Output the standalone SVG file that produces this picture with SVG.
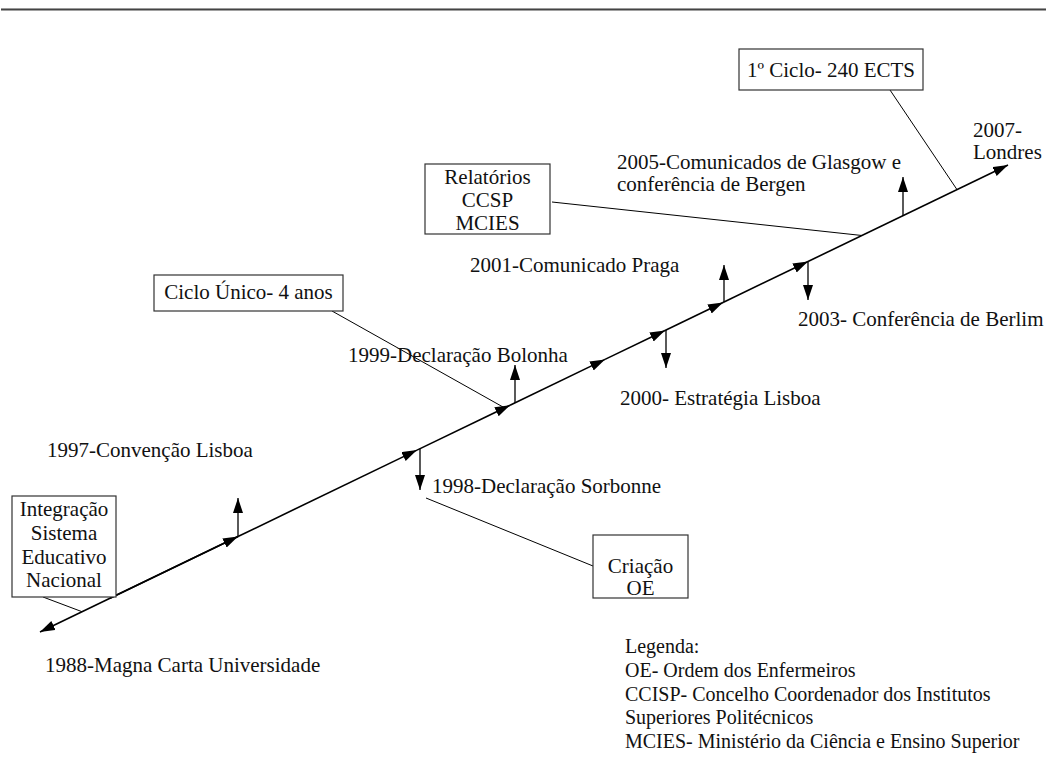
<svg xmlns="http://www.w3.org/2000/svg" width="1046" height="780" viewBox="0 0 1046 780" font-family="'Liberation Serif', 'Times New Roman', Times, serif">
  <style>
    text { font-family: 'Liberation Serif', 'Times New Roman', Times, serif; fill: #111; }
    .lbl { font-size: 21px; }
    .leg { font-size: 20px; }
    .box rect { fill: #fff; stroke: #333; stroke-width: 1.2; }
    .box text { font-size: 21px; text-anchor: middle; }
    .axis { stroke: #000; stroke-width: 1.6; fill: none; marker-end: url(#head); }
    .tick { stroke: #000; stroke-width: 1.3; fill: none; marker-end: url(#head); }
    .lead { stroke: #000; stroke-width: 1; fill: none; }
  </style>
  <defs>
    <marker id="head" markerUnits="userSpaceOnUse" markerWidth="16" markerHeight="11" refX="15" refY="5" orient="auto">
      <path d="M0,0 L15,5 L0,10 z" fill="#000"/>
    </marker>
  </defs>

  <rect width="1046" height="780" fill="#fff"/>

  <!-- header rule -->
  <line x1="1" y1="8.5" x2="1046" y2="8.5" stroke="#9a9a9a" stroke-width="1"/>
  <line x1="1" y1="9.7" x2="1046" y2="9.7" stroke="#444" stroke-width="1.4"/>

  <!-- timeline axis, callout leaders and event ticks -->
  <g id="connectors">
    <line class="axis" x1="238" y1="536.5" x2="40" y2="632"/>
    <line class="axis" x1="110" y1="598.2" x2="238" y2="536.5"/>
    <line class="axis" x1="238" y1="536.5" x2="417" y2="450.1"/>
    <line class="axis" x1="417" y1="450.1" x2="510" y2="405.3"/>
    <line class="axis" x1="510" y1="405.3" x2="605" y2="359.4"/>
    <line class="axis" x1="605" y1="359.4" x2="665" y2="330.5"/>
    <line class="axis" x1="665" y1="330.5" x2="723" y2="302.5"/>
    <line class="axis" x1="723" y1="302.5" x2="808" y2="261.5"/>
    <line class="axis" x1="808" y1="261.5" x2="1008" y2="165"/>

    <line class="tick" x1="238" y1="536.5" x2="238" y2="498"/>
    <line class="tick" x1="420" y1="448.7" x2="420" y2="490"/>
    <line class="tick" x1="515" y1="402.9" x2="515" y2="365"/>
    <line class="tick" x1="666" y1="330" x2="666" y2="368"/>
    <line class="tick" x1="724" y1="302" x2="724" y2="265"/>
    <line class="tick" x1="808" y1="261.5" x2="808" y2="300"/>
    <line class="tick" x1="903" y1="215.7" x2="903" y2="177"/>

    <line class="lead" x1="43" y1="597" x2="82" y2="611.7"/>
    <line class="lead" x1="332" y1="311" x2="503" y2="407"/>
    <line class="lead" x1="552" y1="202" x2="862" y2="235.5"/>
    <line class="lead" x1="890" y1="90" x2="957" y2="189.6"/>
    <line class="lead" x1="426" y1="498" x2="593" y2="566"/>
  </g>

  <!-- callout boxes -->
  <g id="box-integracao" class="box">
    <rect x="12" y="496" width="104" height="101"/>
    <text x="64" y="516">Integração</text>
    <text x="64" y="540">Sistema</text>
    <text x="64" y="564">Educativo</text>
    <text x="64" y="587">Nacional</text>
  </g>
  <g id="box-ciclo-unico" class="box">
    <rect x="154" y="275" width="189" height="36"/>
    <text x="248.5" y="299">Ciclo Único- 4 anos</text>
  </g>
  <g id="box-relatorios" class="box">
    <rect x="425" y="164" width="125" height="70"/>
    <text x="487.5" y="184">Relatórios</text>
    <text x="487.5" y="207">CCSP</text>
    <text x="487.5" y="230">MCIES</text>
  </g>
  <g id="box-primeiro-ciclo" class="box">
    <rect x="739" y="49" width="184" height="41"/>
    <text x="831" y="77">1º Ciclo- 240 ECTS</text>
  </g>
  <g id="box-criacao" class="box">
    <rect x="593" y="535" width="95" height="63"/>
    <text x="640.5" y="573">Criação</text>
    <text x="640.5" y="595">OE</text>
  </g>

  <!-- event labels -->
  <g id="ev-2007">
    <text class="lbl" x="973" y="137">2007-</text>
    <text class="lbl" x="973" y="159">Londres</text>
  </g>
  <g id="ev-2005">
    <text class="lbl" x="617" y="169">2005-Comunicados de Glasgow e</text>
    <text class="lbl" x="617" y="191">conferência de Bergen</text>
  </g>
  <g id="ev-2003"><text class="lbl" x="798" y="326">2003- Conferência de Berlim</text></g>
  <g id="ev-2001"><text class="lbl" x="470" y="272">2001-Comunicado Praga</text></g>
  <g id="ev-2000"><text class="lbl" x="620" y="405">2000- Estratégia Lisboa</text></g>
  <g id="ev-1999"><text class="lbl" x="348" y="362">1999-Declaração Bolonha</text></g>
  <g id="ev-1998"><text class="lbl" x="432" y="493">1998-Declaração Sorbonne</text></g>
  <g id="ev-1997"><text class="lbl" x="47" y="457">1997-Convenção Lisboa</text></g>
  <g id="ev-1988"><text class="lbl" x="45" y="672">1988-Magna Carta Universidade</text></g>

  <!-- legend -->
  <g id="legend">
    <text class="leg" x="625" y="653">Legenda:</text>
    <text class="leg" x="625" y="677">OE- Ordem dos Enfermeiros</text>
    <text class="leg" x="625" y="701">CCISP- Concelho Coordenador dos Institutos</text>
    <text class="leg" x="625" y="724">Superiores Politécnicos</text>
    <text class="leg" x="625" y="748">MCIES- Ministério da Ciência e Ensino Superior</text>
  </g>
</svg>
